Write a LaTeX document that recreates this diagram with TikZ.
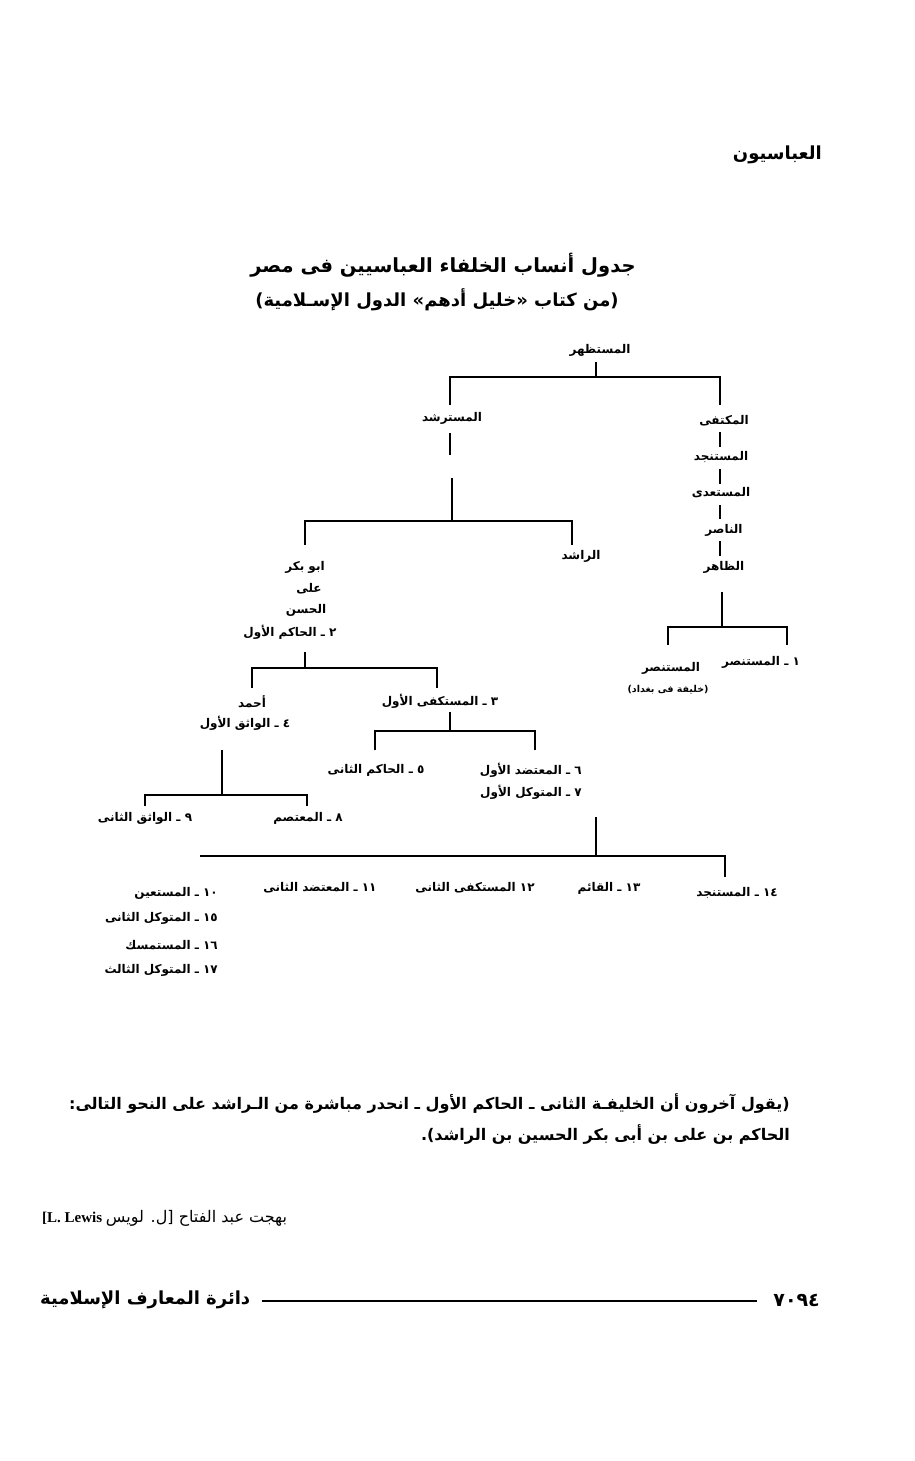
\documentclass[tikz,border=0pt]{standalone}
\usepackage{fontspec}
\setmainfont{Liberation Serif}
\newfontfamily\arabicfont[Script=Arabic]{DejaVu Sans}
\TeXXeTstate=1
\tikzset{
  lbl/.style={font=\arabicfont\bfseries\fontsize{12}{14}\selectfont, inner sep=0pt},
  small/.style={font=\arabicfont\bfseries\fontsize{9.5}{11}\selectfont, inner sep=0pt},
  tree/.style={line width=1.6pt},
}
\newcommand{\R}[1]{\beginR #1\endR}
\begin{document}
\begin{tikzpicture}[x=1pt,y=-1pt]
\useasboundingbox (0,0) rectangle (915,1461);
% header
\node[anchor=east, inner sep=0pt, font=\arabicfont\bfseries\fontsize{18}{21}\selectfont] (hdr) at (822,155) {\R{العباسيون}};
% titles
\node[inner sep=0pt, font=\arabicfont\bfseries\fontsize{19.5}{24}\selectfont] (title) at (443,265) {\R{جدول أنساب الخلفاء العباسيين فى مصر}};
\node[inner sep=0pt, font=\arabicfont\bfseries\fontsize{18}{22}\selectfont] (subtitle) at (437,300) {\R{(من كتاب «خليل أدهم» الدول الإسـلامية)}};
% tree nodes
\node[lbl] (n0) at (600,350) {\R{المستظهر}};
\node[lbl] (n1) at (452,418) {\R{المسترشد}};
\node[lbl] (n2) at (724,421) {\R{المكتفى}};
\node[lbl] (n3) at (721,457) {\R{المستنجد}};
\node[lbl] (n4) at (721,493) {\R{المستعدى}};
\node[lbl] (n5) at (724,530) {\R{الناصر}};
\node[lbl] (n6) at (724,567) {\R{الظاهر}};
\node[lbl] (rashid) at (581,556) {\R{الراشد}};
\node[lbl] (abubakr) at (305,567) {\R{ابو بكر}};
\node[lbl] (ali) at (309,589) {\R{على}};
\node[lbl] (hasan) at (306,610) {\R{الحسن}};
\node[lbl] (hakim1) at (290,632) {\R{٢ ـ الحاكم الأول}};
\node[lbl] (mustansir1) at (761,662) {\R{١ ـ المستنصر}};
\node[lbl] (mustansir) at (671,668) {\R{المستنصر}};
\node[small] (baghdad) at (668,690) {\R{(خليفة فى بغداد)}};
\node[lbl] (ahmad) at (252,702) {\R{أحمد}};
\node[lbl] (wathiq1) at (245,723) {\R{٤ ـ الواثق الأول}};
\node[lbl] (mustakfi1) at (440,701) {\R{٣ ـ المستكفى الأول}};
\node[lbl] (hakim2) at (376,770) {\R{٥ ـ الحاكم الثانى}};
\node[lbl, anchor=east] (mutadid1) at (582,770) {\R{٦ ـ المعتضد الأول}};
\node[lbl, anchor=east] (mutawakkil1) at (582,792) {\R{٧ ـ المتوكل الأول}};
\node[lbl] (wathiq2) at (145,818) {\R{٩ ـ الواثق الثانى}};
\node[lbl] (mutasim) at (308,818) {\R{٨ ـ المعتصم}};
\node[lbl, anchor=east] (b10) at (218,893) {\R{\beginL١٠\endL{} ـ المستعين}};
\node[lbl, anchor=east] (b15) at (218,918) {\R{\beginL١٥\endL{} ـ المتوكل الثانى}};
\node[lbl, anchor=east] (b16) at (218,945) {\R{\beginL١٦\endL{} ـ المستمسك}};
\node[lbl, anchor=east] (b17) at (218,970) {\R{\beginL١٧\endL{} ـ المتوكل الثالث}};
\node[lbl] (b11) at (320,888) {\R{\beginL١١\endL{} ـ المعتضد الثانى}};
\node[lbl] (b12) at (475,888) {\R{\beginL١٢\endL{} المستكفى الثانى}};
\node[lbl] (b13) at (609,888) {\R{\beginL١٣\endL{} ـ القائم}};
\node[lbl] (b14) at (737,893) {\R{\beginL١٤\endL{} ـ المستنجد}};
% junction coordinates
\coordinate (a0) at (596,362); \coordinate (a1) at (596,377);
\coordinate (a2) at (450,377); \coordinate (a3) at (450,405);
\coordinate (a4) at (720,377); \coordinate (a5) at (720,405);
\coordinate (c0) at (450,433); \coordinate (c1) at (450,455);
\coordinate (c2) at (452,478); \coordinate (c3) at (452,521);
\coordinate (c4) at (305,521); \coordinate (c5) at (305,545);
\coordinate (c6) at (572,521); \coordinate (c7) at (572,545);
\coordinate (r1) at (720,432); \coordinate (r2) at (720,447);
\coordinate (r3) at (720,469); \coordinate (r4) at (720,484);
\coordinate (r5) at (720,505); \coordinate (r6) at (720,519);
\coordinate (r7) at (720,541); \coordinate (r8) at (720,556);
\coordinate (d0) at (722,592); \coordinate (d1) at (722,627);
\coordinate (d2) at (668,627); \coordinate (d3) at (668,645);
\coordinate (d4) at (787,627); \coordinate (d5) at (787,645);
\coordinate (e0) at (305,652); \coordinate (e1) at (305,668);
\coordinate (e2) at (252,668); \coordinate (e3) at (252,688);
\coordinate (e4) at (437,668); \coordinate (e5) at (437,688);
\coordinate (f0) at (450,712); \coordinate (f1) at (450,731);
\coordinate (f2) at (375,731); \coordinate (f3) at (375,750);
\coordinate (f4) at (535,731); \coordinate (f5) at (535,750);
\coordinate (g0) at (222,750); \coordinate (g1) at (222,795);
\coordinate (g2) at (145,795); \coordinate (g3) at (145,806);
\coordinate (g4) at (307,795); \coordinate (g5) at (307,806);
\coordinate (h0) at (596,817); \coordinate (h1) at (596,856);
\coordinate (h2) at (200,856); \coordinate (h3) at (725,856);
\coordinate (h4) at (725,877);
% connectors
\draw[tree] (a0) -- (a1);
\draw[tree] (a3) -- (a2) -- (a4) -- (a5);
\draw[tree] (c0) -- (c1);
\draw[tree] (c2) -- (c3);
\draw[tree] (c5) -- (c4) -- (c6) -- (c7);
\draw[tree] (r1) -- (r2); \draw[tree] (r3) -- (r4);
\draw[tree] (r5) -- (r6); \draw[tree] (r7) -- (r8);
\draw[tree] (d0) -- (d1);
\draw[tree] (d3) -- (d2) -- (d4) -- (d5);
\draw[tree] (e0) -- (e1);
\draw[tree] (e3) -- (e2) -- (e4) -- (e5);
\draw[tree] (f0) -- (f1);
\draw[tree] (f3) -- (f2) -- (f4) -- (f5);
\draw[tree] (g0) -- (g1);
\draw[tree] (g3) -- (g2) -- (g4) -- (g5);
\draw[tree] (h0) -- (h1);
\draw[tree] (h2) -- (h3) -- (h4);
% paragraph
\node[anchor=east, inner sep=0pt, font=\arabicfont\bfseries\fontsize{16}{19}\selectfont] (p1) at (790,1103) {\R{(يقول آخرون أن الخليفـة الثانى ـ الحاكم الأول ـ انحدر مباشرة من الـراشد على النحو التالى:}};
\node[anchor=east, inner sep=0pt, font=\arabicfont\bfseries\fontsize{16}{19}\selectfont] (p2) at (790,1134) {\R{الحاكم بن على بن أبى بكر الحسين بن الراشد).}};
% author
\node[anchor=west, inner sep=0pt, font=\fontsize{15}{17}\selectfont] (author) at (42,1218) {{\bfseries [L. Lewis} {\arabicfont\fontsize{16}{19}\selectfont\beginR بهجت عبد الفتاح [ل. لويس\endR}};
% footer
\node[anchor=west, inner sep=0pt, font=\arabicfont\bfseries\fontsize{18}{21}\selectfont] (foot) at (40,1300) {\R{دائرة المعارف الإسلامية}};
\node[anchor=east, inner sep=0pt, font=\arabicfont\bfseries\fontsize{19}{22}\selectfont] (page) at (820,1300) {٧٠٩٤};
\coordinate (fl) at (262,1301); \coordinate (fr) at (757,1301);
\draw[line width=1.6pt] (fl) -- (fr);
\end{tikzpicture}
\end{document}
